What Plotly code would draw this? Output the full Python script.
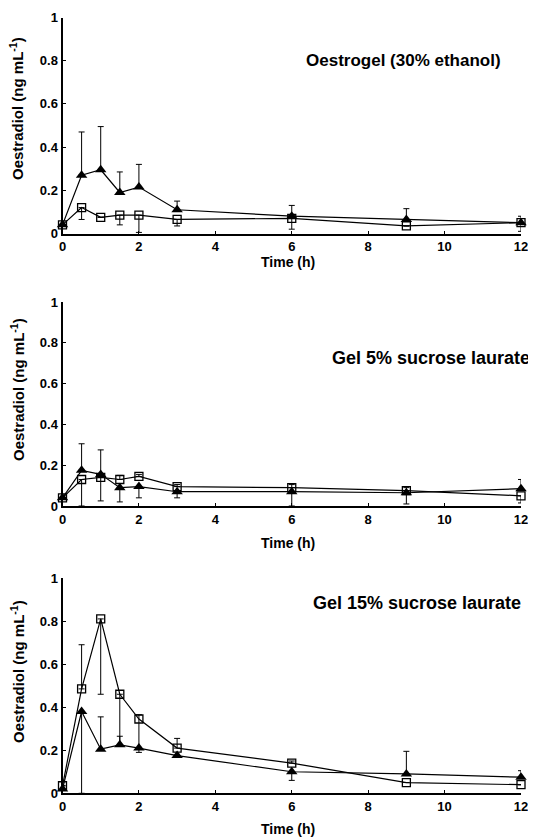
import plotly.graph_objects as go

# ---- data ----
time_h = [0, 0.5, 1, 1.5, 2, 3, 6, 9, 12]

panel_titles = ["Oestrogel (30% ethanol)", "Gel 5% sucrose laurate", "Gel 15% sucrose laurate"]

# Panel 1: Oestrogel
p1_tri = [0.04, 0.27, 0.295, 0.19, 0.215, 0.11, 0.08, 0.065, 0.05]
p1_tri_plus = [0, 0.20, 0.20, 0.095, 0.105, 0.04, 0.05, 0.05, 0.03]
p1_tri_minus = [0, 0, 0, 0, 0, 0, 0, 0, 0]
p1_sq = [0.04, 0.12, 0.075, 0.085, 0.085, 0.065, 0.07, 0.035, 0.05]
p1_sq_plus = [0, 0, 0, 0, 0, 0, 0, 0, 0]
p1_sq_minus = [0, 0.055, 0, 0.045, 0.08, 0.03, 0.05, 0, 0.04]

# Panel 2: 5% sucrose laurate
p2_tri = [0.04, 0.175, 0.155, 0.09, 0.095, 0.07, 0.07, 0.065, 0.085]
p2_tri_plus = [0, 0.13, 0.12, 0, 0, 0, 0, 0, 0.045]
p2_tri_minus = [0, 0, 0, 0.07, 0.055, 0.03, 0.07, 0.055, 0]
p2_sq = [0.04, 0.13, 0.14, 0.13, 0.145, 0.095, 0.09, 0.075, 0.05]
p2_sq_plus = [0, 0, 0, 0.02, 0.01, 0.01, 0.015, 0.015, 0]
p2_sq_minus = [0, 0.13, 0.115, 0, 0, 0, 0, 0, 0.035]

# Panel 3: 15% sucrose laurate
p3_tri = [0.02, 0.38, 0.205, 0.225, 0.21, 0.175, 0.10, 0.09, 0.075]
p3_tri_plus = [0, 0, 0.15, 0.04, 0, 0, 0, 0.105, 0.03]
p3_tri_minus = [0, 0.38, 0, 0, 0.02, 0, 0.04, 0, 0]
p3_sq = [0.035, 0.485, 0.81, 0.46, 0.345, 0.21, 0.14, 0.05, 0.04]
p3_sq_plus = [0, 0.205, 0, 0, 0.02, 0.045, 0.01, 0, 0]
p3_sq_minus = [0, 0, 0.35, 0.24, 0.14, 0, 0, 0, 0]

x_ticks = [0, 2, 4, 6, 8, 10, 12]
y_ticks = [0, 0.2, 0.4, 0.6, 0.8, 1]
y_ticklabels = ["0", "0.2", "0.4", "0.6", "0.8", "1"]

panels = [
    (p1_tri, p1_tri_plus, p1_tri_minus, p1_sq, p1_sq_plus, p1_sq_minus),
    (p2_tri, p2_tri_plus, p2_tri_minus, p2_sq, p2_sq_plus, p2_sq_minus),
    (p3_tri, p3_tri_plus, p3_tri_minus, p3_sq, p3_sq_plus, p3_sq_minus),
]

# ---- layout geometry (target pixels in the 536x838 window) ----
OFF = 8                      # default page body margin
W, H = 536 - OFF, 838 - OFF  # figure size fitting the window


def fx(px):
    return (px - OFF) / W


def fy(py):
    return 1 - (py - OFF) / H


x_px = (62.5, 521)
y_px = [(233.5, 17.5), (506, 302), (793.3, 578)]  # (bottom, top)
xtitle_y = [262, 543, 829]
ytitle_y = [109, 390, 672]
ptitle_y = [60, 358, 603]
ptitle_right = [503, 532, 523]
ptitle_size = [17, 18, 18]

FONT = "Liberation Sans, Arial, sans-serif"

fig = go.Figure()
layout = dict(
    template="none",
    width=W, height=H, margin=dict(l=0, r=0, t=0, b=0, pad=0, autoexpand=False),
    paper_bgcolor="white", plot_bgcolor="white", showlegend=False,
    font=dict(family=FONT, color="black"),
)
annotations = []

for i, (tri, trip, trim, sq, sqp, sqm) in enumerate(panels):
    n = "" if i == 0 else str(i + 1)
    xa, ya = "x" + n, "y" + n
    err_style = dict(type="data", symmetric=False, color="black", thickness=1, width=3)
    fig.add_trace(go.Scatter(
        x=time_h, y=sq, xaxis=xa, yaxis=ya, mode="lines+markers",
        line=dict(color="black", width=1.2),
        marker=dict(symbol="square-open", size=8, color="black", line=dict(width=1.3, color="black")),
        error_y=dict(array=sqp, arrayminus=sqm, **err_style),
        cliponaxis=False,
    ))
    fig.add_trace(go.Scatter(
        x=time_h, y=tri, xaxis=xa, yaxis=ya, mode="lines+markers",
        line=dict(color="black", width=1.2),
        marker=dict(symbol="triangle-up", size=10, color="black"),
        error_y=dict(array=trip, arrayminus=trim, **err_style),
        cliponaxis=False,
    ))
    yb, yt = y_px[i]
    layout["xaxis" + n] = dict(
        domain=[fx(x_px[0]), fx(x_px[1])], range=[0, 12], anchor=ya, automargin=False,
        tickvals=x_ticks, ticks="inside", ticklen=3, tickcolor="black",
        showline=True, linecolor="black", linewidth=2, showgrid=False, zeroline=False,
        tickfont=dict(family=FONT, size=13, weight="bold", color="black"),
    )
    layout["yaxis" + n] = dict(
        domain=[fy(yb), fy(yt)], range=[0, 1], anchor=xa, automargin=False,
        tickvals=y_ticks, ticktext=y_ticklabels, ticks="inside", ticklen=3, tickcolor="black",
        showline=True, linecolor="black", linewidth=2, showgrid=False, zeroline=False,
        tickfont=dict(family=FONT, size=13, weight="bold", color="black"),
    )
    annotations.append(dict(
        text="Time (h)", xref="paper", yref="paper",
        x=fx(288), y=fy(xtitle_y[i]), xanchor="center", yanchor="middle",
        showarrow=False, font=dict(family=FONT, size=14, weight="bold", color="black"),
    ))
    annotations.append(dict(
        text="Oestradiol (ng mL<sup>-1</sup>)", xref="paper", yref="paper",
        x=fx(17), y=fy(ytitle_y[i]), xanchor="center", yanchor="middle",
        textangle=-90, showarrow=False,
        font=dict(family=FONT, size=15, weight="bold", color="black"),
    ))
    annotations.append(dict(
        text=panel_titles[i], xref="paper", yref="paper",
        x=fx(ptitle_right[i]), y=fy(ptitle_y[i]), xanchor="right", yanchor="middle",
        showarrow=False, font=dict(family=FONT, size=ptitle_size[i], weight="bold", color="black"),
    ))

layout["annotations"] = annotations
fig.update_layout(**layout)
fig.write_html("out.html")
